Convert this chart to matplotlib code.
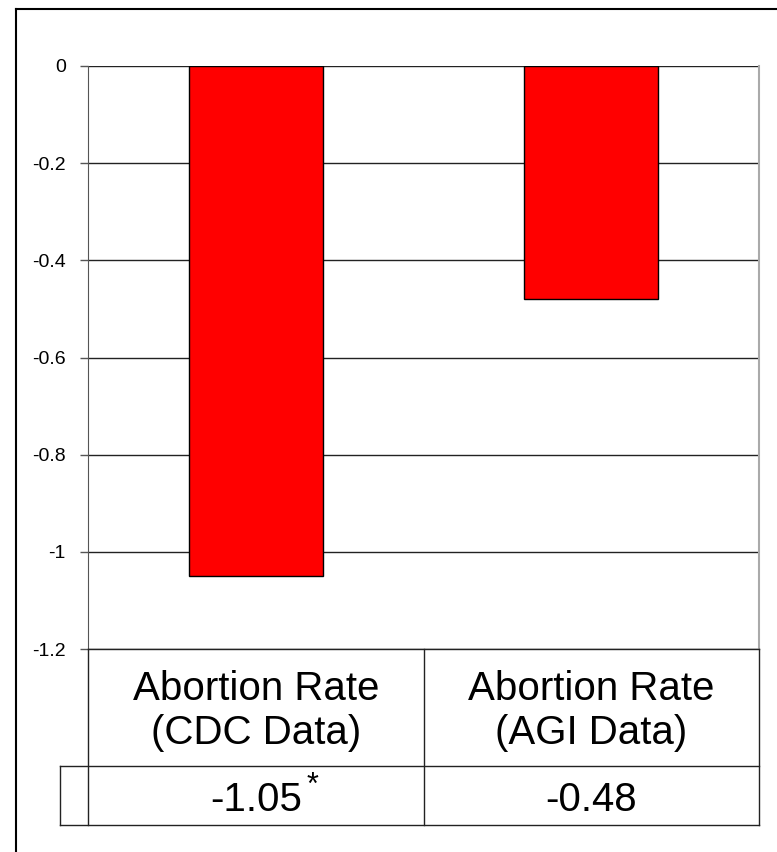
"""Abortion rate change: CDC vs AGI data, bar chart with data table."""
import matplotlib
matplotlib.use("Agg")
import matplotlib.pyplot as plt
from matplotlib.lines import Line2D

# Data
categories = ["Abortion Rate\n(CDC Data)", "Abortion Rate\n(AGI Data)"]
values = [-1.05, -0.48]
value_labels = ["-1.05", "-0.48"]
value_notes = ["*", ""]
yticks = [0, -0.2, -0.4, -0.6, -0.8, -1, -1.2]
ytick_labels = ["0", "-0.2", "-0.4", "-0.6", "-0.8", "-1", "-1.2"]

W, H = 777, 852
DPI = 100
plt.rcParams["font.family"] = ["Liberation Sans", "DejaVu Sans"]


def fx(px):
    return px / W


def fy(py):
    return 1 - py / H


fig = plt.figure(figsize=(W / DPI, H / DPI), dpi=DPI)

# plot area in pixels
L, R, T, B = 88, 759, 66, 649
ax = fig.add_axes([fx(L), fy(B), fx(R) - fx(L), fy(T) - fy(B)])
x = list(range(len(values)))
ax.bar(x, values, width=0.4, color="#ff0000", edgecolor="black", linewidth=1.0, zorder=3)
ax.set_xlim(-0.5, 1.5)
ax.set_ylim(-1.2, 0)
ax.set_yticks(yticks)
ax.set_yticklabels(ytick_labels, fontsize=14)
ax.set_xticks([])
ax.yaxis.grid(True, color="#222222", linewidth=1.0)
ax.set_axisbelow(True)
ax.tick_params(axis="y", length=6, width=1.0, color="#555555", pad=10)
for side in ("top", "bottom"):
    ax.spines[side].set_visible(False)
ax.spines["left"].set_color("#555555")
ax.spines["right"].set_color("#aaaaaa")
ax.spines["right"].set_linewidth(1.5)

# data table below the plot
tb_top, tb_mid, tb_bot = B, 766, 825
tab = fig.add_axes([fx(L), fy(tb_bot), fx(R) - fx(L), fy(tb_top) - fy(tb_bot)])
tab.set_xlim(-0.5, 1.5)
tab.set_ylim(tb_bot - tb_top, 0)
tab.axis("off")
ext = -0.5 - (L - 60) / (R - L) * 2
lw = 1.0
kw = dict(color="#222222", linewidth=lw, clip_on=False)
tab.plot([-0.5, 1.5], [0, 0], **kw)
tab.plot([ext, 1.5], [tb_mid - tb_top] * 2, **kw)
tab.plot([ext, 1.5], [tb_bot - tb_top] * 2, **kw)
tab.plot([-0.5, -0.5], [0, tb_bot - tb_top], **kw)
tab.plot([ext, ext], [tb_mid - tb_top, tb_bot - tb_top], **kw)
tab.plot([0.5, 0.5], [0, tb_bot - tb_top], **kw)
tab.plot([1.5, 1.5], [0, tb_bot - tb_top], **kw)

for i, (cat, lab, note) in enumerate(zip(categories, value_labels, value_notes)):
    tab.text(i, 711 - tb_top, cat, ha="center", va="center", fontsize=29,
             linespacing=1.2)
    tab.text(i, 800 - tb_top, lab, ha="center", va="center", fontsize=29)
    if note:
        tab.text(i + 0.17, 786 - tb_top, note, ha="center", va="center", fontsize=22)

# outer frame (top and left edges)
fig.add_artist(Line2D([fx(16), 1], [fy(9), fy(9)], color="black", linewidth=1.5))
fig.add_artist(Line2D([fx(16), fx(16)], [fy(9), 0], color="black", linewidth=1.5))

fig.savefig("out.png", dpi=DPI)
